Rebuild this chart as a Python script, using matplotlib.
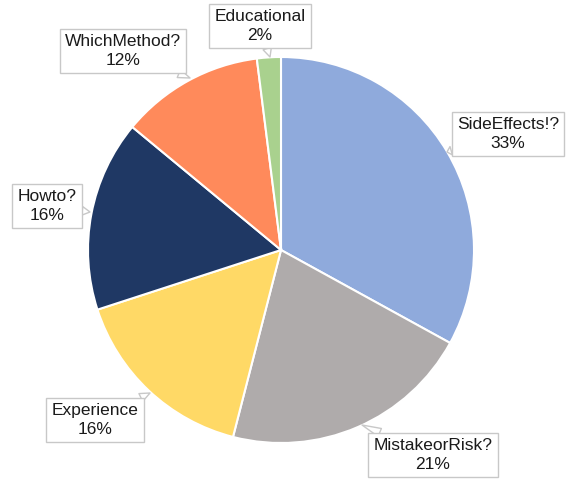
import matplotlib.pyplot as plt

categories = ["SideEffects!?", "MistakeorRisk?", "Experience", "Howto?", "WhichMethod?", "Educational"]
shares = [33, 21, 16, 16, 12, 2]
colors = ["#8FAADC", "#AFABAB", "#FFD966", "#1F3864", "#FF8A5B", "#A9D18E"]

# label box centers and pointer targets, pixel coords (y from top)
label_xy = [(508, 134), (433, 455), (95, 420), (47, 206), (123, 51), (260, 26)]
point_xy = [(447, 152), (362, 425), (150, 393), (90, 212), (190, 78), (270, 57)]

W, H = 569, 479
plt.rcParams["font.family"] = ["Liberation Sans", "DejaVu Sans"]
fig = plt.figure(figsize=(W / 100, H / 100), dpi=100)
ax = fig.add_axes([0, 0, 1, 1])

ax.pie(shares, colors=colors, startangle=90, counterclock=False,
       center=(281, H - 250), radius=193,
       wedgeprops=dict(edgecolor="white", linewidth=1.5), frame=True)
ax.set_xlim(0, W)
ax.set_ylim(0, H)
ax.set_aspect("equal")
ax.axis("off")

for name, v, (lx, ly), (px, py) in zip(categories, shares, label_xy, point_xy):
    ax.annotate(f"{name}\n{v}%", xy=(px, H - py), xytext=(lx, H - ly),
                ha="center", va="center", fontsize=12.5, color="#1a1a1a",
                linespacing=1.3,
                bbox=dict(boxstyle="square,pad=0.3", fc="white", ec="#C8C8C8", lw=1),
                arrowprops=dict(arrowstyle="wedge,tail_width=0.5", fc="white",
                                ec="#C8C8C8", lw=1, shrinkA=0, shrinkB=0))

fig.savefig("out.png", dpi=100)
